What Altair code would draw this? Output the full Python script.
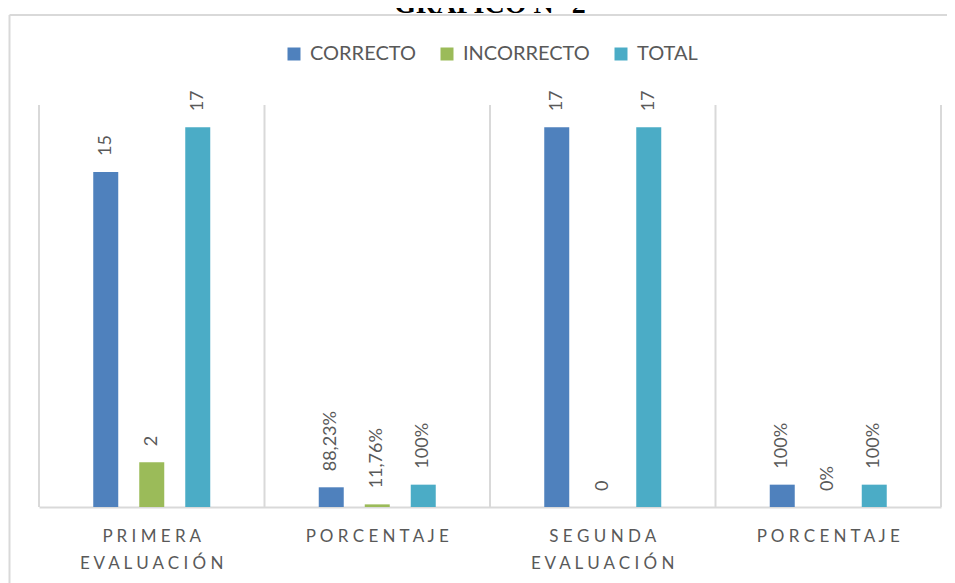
import json
import altair as alt
import pandas as pd

# ---- data ----
grupos = [["PRIMERA", "EVALUACIÓN"], ["PORCENTAJE"], ["SEGUNDA", "EVALUACIÓN"], ["PORCENTAJE"]]
series = ["CORRECTO", "INCORRECTO", "TOTAL"]
colores = ["#4F81BD", "#9BBB59", "#4BACC6"]
correcto = [15, 0.8823, 17, 1.0]
incorrecto = [2, 0.1176, 0, 0]
total = [17, 1.0, 17, 1.0]
et_correcto = ["15", "88,23%", "17", "100%"]
et_incorrecto = ["2", "11,76%", "0", "0%"]
et_total = ["17", "100%", "17", "100%"]
titulo = "GRÁFICO N° 2"

keys = [str(i) for i in range(len(grupos))]
rows = []
for s, vals, ets in zip(series, [correcto, incorrecto, total], [et_correcto, et_incorrecto, et_total]):
    for k, v, e in zip(keys, vals, ets):
        rows.append({"cat": k, "serie": s, "valor": v, "etiqueta": e})
df = pd.DataFrame(rows)
sep_df = pd.DataFrame({"cat": keys})
one = pd.DataFrame({"a": [0]})

W, H = 902, 402
GRAY = "#595959"
LINE = "#d9d9d9"

spaced = [[" ".join(w) for w in g] for g in grupos]
label_expr = json.dumps(spaced, ensure_ascii=False) + "[toNumber(datum.value)]"

xscale = alt.Scale(domain=keys, paddingInner=0, paddingOuter=0)

x_axis = alt.Axis(
    title=None, labelExpr=label_expr, labelFont="Lato", labelFontSize=17,
    labelColor=GRAY, labelPadding=21, labelLineHeight=27, labelAngle=0,
    labelBaseline="top", domain=True, domainColor=LINE, domainWidth=2,
    ticks=False, grid=False,
)

xoff = alt.XOffset("serie:N", scale=alt.Scale(domain=series, paddingInner=0, paddingOuter=0.951))
yenc = alt.Y("valor:Q", scale=alt.Scale(domain=[0, 18]), axis=None)

seps = alt.Chart(sep_df).mark_rule(color=LINE, strokeWidth=2).encode(
    x=alt.X("cat:N", bandPosition=0, scale=xscale, axis=x_axis),
    y=alt.value(0), y2=alt.value(H),
)
sep_right = alt.Chart(one).mark_rule(color=LINE, strokeWidth=2).encode(
    x=alt.value(W), y=alt.value(0), y2=alt.value(H)
)

bars = alt.Chart(df).mark_bar(width=25).encode(
    x=alt.X("cat:N", scale=xscale, axis=x_axis),
    xOffset=xoff,
    y=yenc,
    color=alt.Color(
        "serie:N",
        scale=alt.Scale(domain=series, range=colores),
        legend=alt.Legend(
            title=None, orient="none", legendX=245, legendY=-61,
            direction="horizontal", symbolType="square", symbolSize=169,
            symbolStrokeWidth=0, labelFont="Lato", labelFontSize=20,
            labelColor=GRAY, columnPadding=21, labelOffset=6,
        ),
    ),
)

labels = alt.Chart(df).mark_text(
    angle=270, align="left", baseline="middle", dx=16,
    font="Lato", fontSize=18, color=GRAY,
).encode(
    x=alt.X("cat:N", scale=xscale, axis=x_axis),
    xOffset=xoff,
    y=yenc,
    text="etiqueta:N",
)

frame_left = alt.Chart(one).mark_rule(color=LINE, strokeWidth=2).encode(
    x=alt.value(-29.5), y=alt.value(-90), y2=alt.value(480)
)
frame_top = alt.Chart(one).mark_rule(color=LINE, strokeWidth=2).encode(
    x=alt.value(-29.5), x2=alt.value(910), y=alt.value(-90)
)
title = alt.Chart(one).mark_text(
    text=titulo, font="Liberation Serif", fontWeight="bold", fontSize=28,
    align="center", baseline="alphabetic", color="black",
).encode(x=alt.value(451), y=alt.value(-92))

chart = alt.layer(
    frame_left, frame_top, title, seps, sep_right, bars, labels
).properties(
    width=W, height=H,
    autosize=alt.AutoSizeParams(type="none"),
    padding={"left": 31, "top": 97, "right": 6, "bottom": 76},
    background="white",
).configure_view(stroke=None)

chart.save("out.html", embed_options={"renderer": "svg", "actions": False})
